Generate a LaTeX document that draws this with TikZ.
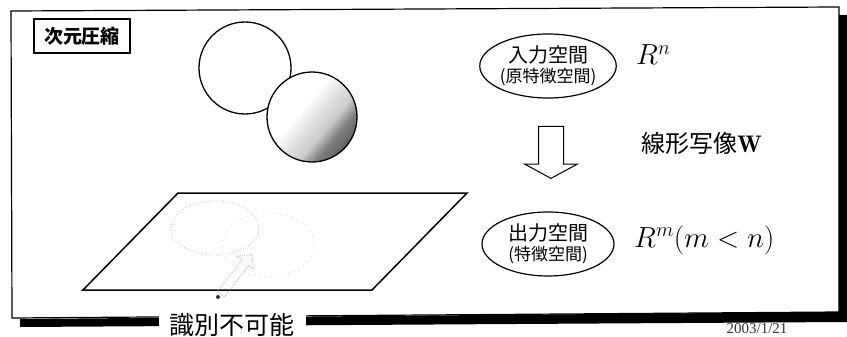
\RequirePackage{fix-cm}
\documentclass[tikz,border=0pt]{standalone}
\usepackage{fontspec}
\newfontfamily\cjk{Noto Sans CJK JP}
\newfontfamily\datefont{Liberation Serif}
\usetikzlibrary{shapes.geometric,shapes.arrows}

% white on the left, darker towards the lower right
\pgfdeclarehorizontalshading{globe}{100bp}{%
  color(0bp)=(white); color(43bp)=(white); color(51bp)=(gray!22);
  color(60bp)=(gray!40); color(67bp)=(black!50); color(75bp)=(black!62);
  color(100bp)=(black!62)}

\tikzset{
  space/.style={draw, ellipse, line width=1.2pt, inner sep=0pt,
    minimum width=132pt, minimum height=64pt, align=center,
    font=\cjk\fontsize{20}{23}\selectfont},
  mathtext/.style={anchor=base west, inner sep=0pt,
    font=\fontsize{29}{34}\selectfont},
  blockarrow/.style={single arrow, draw, inner xsep=0pt},
}

\begin{document}
\begin{tikzpicture}[x=1pt,y=-1pt]

        \useasboundingbox (0,0) rectangle (847,337);

        %Date
        \node [font=\datefont\fontsize{15}{17}\selectfont, text=black!80] (date) at (757,329) {2003/1/21};

        %Frame and shadow
        \draw [line width=1.2pt] (11,11) -- (839,7) -- (839,312) -- (12,318) -- cycle;
        \fill (839,15) -- (847,15) -- (847,322) -- (20,327) -- (20,319) -- (839,312) -- cycle;

        %Title
        \node [draw, line width=1.2pt, minimum width=96pt, minimum height=34pt,
               font=\cjk\bfseries\fontsize{19}{22}\selectfont] (title) at (82,36) {次元圧縮};

        %Circles
        \draw [line width=1.3pt] (245,68) circle [radius=46];
        \draw [line width=1.3pt, shading=globe, shading angle=-40] (312,117) circle [radius=45];

        %Plane
        \draw [line width=1.5pt] (83,290) -- (372,290) -- (467,193) -- (178,193) -- cycle;
        \node [draw=gray!55, dotted, line width=0.8pt, ellipse, minimum width=88pt, minimum height=54pt] (blur) at (215,228) {};
        \draw [gray!45, line width=0.8pt, dash pattern=on 0.8pt off 5pt] (268,245) ellipse [x radius=46, y radius=32];
        \node [blockarrow, draw=gray!60, densely dotted, line width=0.8pt, rotate=52, inner ysep=4pt,
               minimum height=50pt, single arrow head extend=6pt] (hint) at (235,276) {};
        \fill [black!80] (218,297) circle [radius=2];
        \node [fill=white, inner xsep=11pt, inner ysep=2pt,
               font=\cjk\fontsize{25}{28}\selectfont] (blind) at (232,325) {識別不可能};

        %Input space
        \node [space] (inspace) at (548,66) {入力空間\\[-3pt]{\fontsize{17}{19}\selectfont (原特徴空間)}};
        \node [mathtext] (rn) at (636,65) {$R^n$};

        %Linear map
        \node [blockarrow, line width=1pt, rotate=-90, inner ysep=12pt, minimum height=52pt,
               single arrow head extend=14pt, single arrow tip angle=123] (map) at (551,149) {};
        \node [anchor=west, inner sep=0pt, font=\cjk\fontsize{24}{28}\selectfont] (wlabel) at (641,143) {線形写像$\mathbf{W}$};

        %Output space
        \node [space] (outspace) at (548,244) {出力空間\\[-3pt]{\fontsize{17}{19}\selectfont (特徴空間)}};
        \node [mathtext] (rm) at (634,247) {$R^m(m<n)$};

\end{tikzpicture}
\end{document}
